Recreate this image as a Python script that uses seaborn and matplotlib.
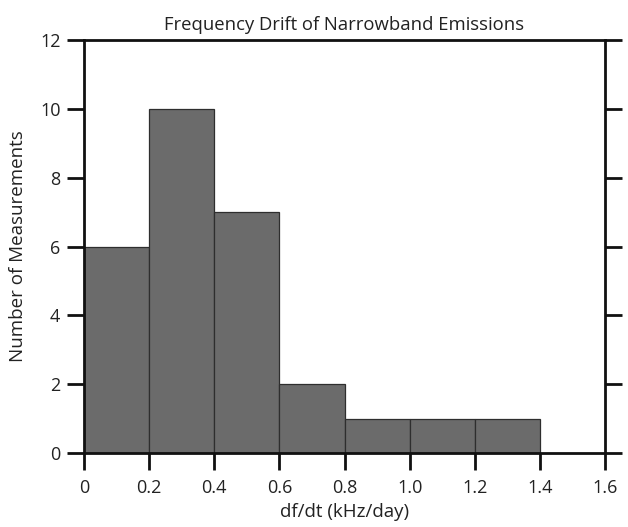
import matplotlib
matplotlib.use("Agg")
import matplotlib.pyplot as plt
import seaborn as sns
import numpy as np

bin_edges = [0.0, 0.2, 0.4, 0.6, 0.8, 1.0, 1.2, 1.4]
counts = [6, 10, 7, 2, 1, 1, 1]
xticks = [0, 0.2, 0.4, 0.6, 0.8, 1.0, 1.2, 1.4, 1.6]
xticklabels = ["0", "0.2", "0.4", "0.6", "0.8", "1.0", "1.2", "1.4", "1.6"]
yticks = [0, 2, 4, 6, 8, 10, 12]

sns.set_style("ticks")
plt.rcParams['font.family'] = ['Open Sans', 'DejaVu Sans']

centers = [(bin_edges[i] + bin_edges[i + 1]) / 2 for i in range(len(counts))]

fig = plt.figure(figsize=(6.28, 5.27), dpi=100)
ax = fig.add_axes([0.1338, 0.1404, 0.9634 - 0.1338, 0.9241 - 0.1404])
sns.histplot(x=centers, weights=counts, bins=bin_edges, ax=ax,
             color="#6b6b6b", edgecolor="#2e2e2e", linewidth=0.9, alpha=1)

ax.set_xlim(0, 1.6)
ax.set_ylim(0, 12)
ax.set_xticks(xticks)
ax.set_xticklabels(xticklabels)
ax.set_yticks(yticks)
for s in ax.spines.values():
    s.set_visible(True)
    s.set_linewidth(2)
    s.set_color("#111111")
ax.tick_params(axis="both", direction="out", length=12, width=2, labelsize=13,
               colors="#111111", labelcolor="#222222")
ax.tick_params(axis="x", pad=7)
ax.tick_params(axis="y", pad=5, right=True, labelright=False)
ax.set_title("Frequency Drift of Narrowband Emissions", fontsize=13.3, color="#222222", pad=7)
ax.set_xlabel("df/dt (kHz/day)", fontsize=13.5, color="#222222", labelpad=4)
ax.set_ylabel("Number of Measurements", fontsize=13.5, color="#222222", labelpad=9)

fig.savefig("out.png", dpi=100, facecolor="white")
